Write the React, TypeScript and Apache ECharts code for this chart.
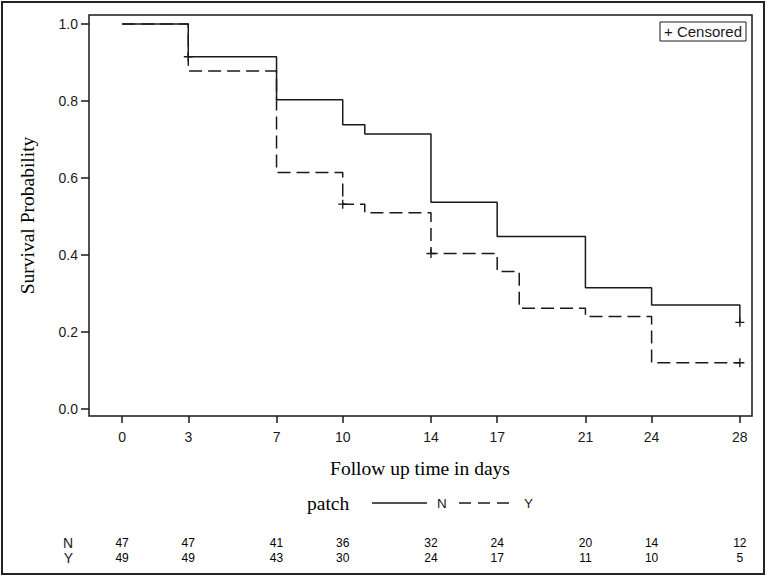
import React, { useEffect, useRef } from "react";
import * as echarts from "echarts";

const tickTimes = [0, 3, 7, 10, 14, 17, 21, 24, 28];
const yTicks = [0, 0.2, 0.4, 0.6, 0.8, 1.0];
const groups = ["Y", "N"];

const survN: [number, number][] = [
  [0, 1.0], [3, 0.915], [7, 0.803], [10, 0.738], [11, 0.714], [14, 0.537],
  [17, 0.448], [21, 0.315], [24, 0.27], [28, 0.225],
];
const survY: [number, number][] = [
  [0, 1.0], [3, 0.878], [7, 0.614], [10, 0.532], [11, 0.51], [14, 0.404],
  [17, 0.357], [18, 0.262], [21, 0.24], [24, 0.12], [28, 0.12],
];
const censorN: [number, number][] = [[3, 0.915], [28, 0.225]];
const censorY: [number, number][] = [[10, 0.532], [14, 0.404], [28, 0.12]];

const atRiskN = [47, 47, 41, 36, 32, 24, 20, 14, 12];
const atRiskY = [49, 49, 43, 30, 24, 17, 11, 10, 5];

const SANS = "'Liberation Sans', Arial, Helvetica, sans-serif";
const SERIF = "'Liberation Serif', 'Times New Roman', serif";
const INK = "#1a1a1a";
const PLUS =
  "path://M8.5,0 H11.5 V8.5 H20 V11.5 H11.5 V20 H8.5 V11.5 H0 V8.5 H8.5 Z";

export default function App() {
  const ref = useRef<HTMLDivElement>(null);
  useEffect(() => {
    document.body.style.margin = "0";
    const chart = echarts.init(ref.current!, null, { renderer: "svg" });
    const xMin = -1.5;
    const xMax = 28.55;
    const riskLabel = {
      show: true, position: "inside", fontSize: 12, color: "#000", fontFamily: SANS,
      formatter: (p: any) => String(p.value[2]),
    };
    chart.setOption({
      animation: false,
      backgroundColor: "#ffffff",
      grid: [
        {
          left: 89, right: 16, top: 15, bottom: 161,
          show: true, borderColor: INK, borderWidth: 1.5, backgroundColor: "transparent",
        },
        { left: 89, right: 16, top: 535.5, height: 30, show: false },
      ],
      xAxis: [
        {
          type: "value", gridIndex: 0, min: xMin, max: xMax,
          axisLine: { show: false, onZero: false },
          splitLine: { show: false },
          axisTick: { show: true, length: 7, customValues: tickTimes, lineStyle: { color: INK, width: 1.5 } },
          axisLabel: {
            customValues: tickTimes, margin: 14, fontSize: 14, color: INK, fontFamily: SANS,
          },
        },
        {
          type: "value", gridIndex: 1, min: xMin, max: xMax, show: false,
          splitLine: { show: false },
        },
      ],
      yAxis: [
        {
          type: "value", gridIndex: 0, min: -0.0182, max: 1.0234,
          axisLine: { show: false, onZero: false },
          splitLine: { show: false },
          axisTick: { show: true, length: 8, customValues: yTicks, lineStyle: { color: INK, width: 1.5 } },
          axisLabel: {
            customValues: yTicks, margin: 11, fontSize: 14, color: INK, fontFamily: SANS,
            formatter: (v: number) => v.toFixed(1),
          },
        },
        {
          type: "category", gridIndex: 1, data: groups,
          axisLine: { show: false, onZero: false }, axisTick: { show: false }, splitLine: { show: false },
          axisLabel: { interval: 0, margin: 16, fontSize: 14, color: INK, fontFamily: SANS },
        },
      ],
      series: [
        {
          type: "line", name: "Y", data: survY, step: "end", showSymbol: false, symbol: "none",
          lineStyle: { color: INK, width: 1.5, type: [13, 6] },
          z: 2,
        },
        {
          type: "line", name: "N", data: survN, step: "end", showSymbol: false, symbol: "none",
          lineStyle: { color: INK, width: 1.5, type: "solid" },
          z: 3,
        },
        {
          type: "scatter", data: censorN, symbol: PLUS, symbolSize: 9,
          itemStyle: { color: INK, opacity: 1 }, z: 4,
        },
        {
          type: "scatter", data: censorY, symbol: PLUS, symbolSize: 9,
          itemStyle: { color: INK, opacity: 1 }, z: 4,
        },
        {
          type: "scatter", xAxisIndex: 1, yAxisIndex: 1,
          data: atRiskN.map((v, i) => [tickTimes[i], "N", v]),
          symbolSize: 1, itemStyle: { color: "transparent", opacity: 1 },
          label: riskLabel,
        },
        {
          type: "scatter", xAxisIndex: 1, yAxisIndex: 1,
          data: atRiskY.map((v, i) => [tickTimes[i], "Y", v]),
          symbolSize: 1, itemStyle: { color: "transparent", opacity: 1 },
          label: riskLabel,
        },
      ],
      graphic: [
        {
          type: "rect", shape: { x: 2, y: 2, width: 762, height: 572 },
          style: { fill: "none", stroke: "#222", lineWidth: 2 }, silent: true,
        },
        {
          type: "rect", shape: { x: 660, y: 22, width: 86, height: 19 },
          style: { fill: "#fff", stroke: INK, lineWidth: 1 }, z: 10,
        },
        {
          type: "text", x: 703, y: 31.5, z: 11,
          style: {
            text: "+ Censored", fontSize: 15, fontFamily: SANS, fill: INK,
            textAlign: "center", textVerticalAlign: "middle",
          },
        },
        {
          type: "text", x: 420, y: 468,
          style: {
            text: "Follow up time in days", fontSize: 19.5, fontFamily: SERIF, fill: "#000",
            textAlign: "center", textVerticalAlign: "middle",
          },
        },
        {
          type: "text", x: 27, y: 215.5, rotation: Math.PI / 2,
          style: {
            text: "Survival Probability", fontSize: 19.5, fontFamily: SERIF, fill: "#000",
            textAlign: "center", textVerticalAlign: "middle",
          },
        },
        {
          type: "text", x: 307, y: 503,
          style: {
            text: "patch", fontSize: 19.5, fontFamily: SERIF, fill: "#000",
            textAlign: "left", textVerticalAlign: "middle",
          },
        },
        {
          type: "line", shape: { x1: 372, y1: 503, x2: 427, y2: 503 },
          style: { stroke: INK, lineWidth: 1.5 },
        },
        {
          type: "text", x: 437, y: 503,
          style: {
            text: "N", fontSize: 13.5, fontFamily: SANS, fill: INK,
            textAlign: "left", textVerticalAlign: "middle",
          },
        },
        {
          type: "line", shape: { x1: 459, y1: 503, x2: 511, y2: 503 },
          style: { stroke: INK, lineWidth: 1.5, lineDash: [12, 7] },
        },
        {
          type: "text", x: 524, y: 503,
          style: {
            text: "Y", fontSize: 13.5, fontFamily: SANS, fill: INK,
            textAlign: "left", textVerticalAlign: "middle",
          },
        },
      ],
    });
    return () => chart.dispose();
  }, []);
  return <div ref={ref} style={{ width: 768, height: 577 }} />;
}
